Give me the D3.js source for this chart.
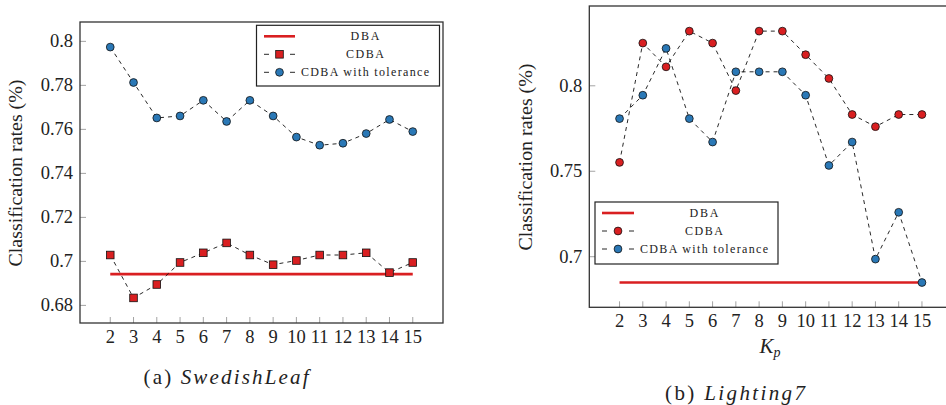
<!DOCTYPE html>
<html>
<head>
<meta charset="utf-8">
<script src="https://cdn.jsdelivr.net/npm/d3@7"></script>
<style>
  body { margin: 0; background: #fff; }
  text { font-family: 'Liberation Serif', 'Times New Roman', 'DejaVu Serif', serif; }
</style>
</head>
<body>
<svg id="chart" width="946" height="405"></svg>
<script>
// K_p values shared by both panels
const kp = [2, 3, 4, 5, 6, 7, 8, 9, 10, 11, 12, 13, 14, 15];

// (a) SwedishLeaf
const swedishDBA = 0.6942;
const swedishCDBA = [0.7029, 0.6834, 0.6895, 0.6995, 0.7039, 0.7084, 0.7029, 0.6985, 0.7004, 0.7029, 0.7029, 0.7039, 0.6949, 0.6995];
const swedishTol = [0.7974, 0.7813, 0.7652, 0.7661, 0.7732, 0.7636, 0.7732, 0.7661, 0.7565, 0.7528, 0.7537, 0.7581, 0.7645, 0.7590];
const swedishTicks = [0.68, 0.70, 0.72, 0.74, 0.76, 0.78, 0.80];

// (b) Lighting7
const lightingDBA = 0.6849;
const lightingCDBA = [0.7552, 0.8250, 0.8111, 0.8320, 0.8250, 0.7972, 0.8320, 0.8320, 0.8182, 0.8043, 0.7832, 0.7761, 0.7832, 0.7832];
const lightingTol = [0.7808, 0.7945, 0.8219, 0.7808, 0.7671, 0.8082, 0.8082, 0.8082, 0.7945, 0.7534, 0.7671, 0.6986, 0.7260, 0.6849];
const lightingTicks = [0.70, 0.75, 0.80];

const legendLabels = ['DBA', 'CDBA', 'CDBA with tolerance'];

const RED = '#d91f21';
const BLUE = '#2a78b6';
const FONT = "'Liberation Serif', 'Times New Roman', 'DejaVu Serif', serif";

const svg = d3.select('#chart');

function fmt(v) {
  // pgfplots style: 0.7 not 0.70
  return String(+v.toFixed(2));
}

function drawPanel(opt) {
  const x = d3.scaleLinear().domain([0.7, 16.3]).range([opt.left, opt.right]);
  const y = d3.scaleLinear().domain(opt.yDomain).range([opt.bottom, opt.top]);
  const g = svg.append('g').attr('font-family', FONT);

  // ticks (inside the box)
  const tickLen = 6;
  g.selectAll('.xt').data(kp).join('line')
    .attr('x1', d => x(d)).attr('x2', d => x(d))
    .attr('y1', opt.bottom).attr('y2', opt.bottom - tickLen)
    .attr('stroke', '#999').attr('stroke-width', 0.9);
  g.selectAll('.yt').data(opt.yTicks).join('line')
    .attr('x1', opt.left).attr('x2', opt.left + tickLen)
    .attr('y1', d => y(d)).attr('y2', d => y(d))
    .attr('stroke', '#999').attr('stroke-width', 0.9);

  // tick labels
  g.selectAll('.xl').data(kp).join('text')
    .attr('x', d => x(d)).attr('y', opt.bottom + 20)
    .attr('text-anchor', 'middle')
    .attr('font-size', 18.5).attr('fill', '#222')
    .text(d => d);
  g.selectAll('.yl').data(opt.yTicks).join('text')
    .attr('x', opt.left - 7).attr('y', d => y(d) + 6)
    .attr('text-anchor', 'end')
    .attr('font-size', 18.5).attr('fill', '#222')
    .text(fmt);

  // y label
  g.append('text')
    .attr('transform', `translate(${opt.ylabX},${opt.ylabY}) rotate(-90)`)
    .attr('text-anchor', 'middle')
    .attr('font-size', 19).attr('fill', '#222')
    .attr('textLength', 187).attr('lengthAdjust', 'spacingAndGlyphs')
    .text('Classification rates (%)');

  // DBA baseline
  g.append('line')
    .attr('x1', x(kp[0])).attr('x2', x(kp[kp.length - 1]))
    .attr('y1', y(opt.dba)).attr('y2', y(opt.dba))
    .attr('stroke', RED).attr('stroke-width', 2.6);

  const line = d3.line().x((d, i) => x(kp[i])).y(d => y(d));

  [opt.cdba, opt.tol].forEach(series => {
    g.append('path')
      .attr('d', line(series))
      .attr('fill', 'none').attr('stroke', '#111')
      .attr('stroke-width', 0.9).attr('stroke-dasharray', '4,4');
  });

  // CDBA markers
  if (opt.cdbaSquare) {
    g.selectAll('.cm').data(opt.cdba).join('rect')
      .attr('x', (d, i) => x(kp[i]) - 3.8).attr('y', d => y(d) - 3.8)
      .attr('width', 7.6).attr('height', 7.6)
      .attr('fill', RED).attr('stroke', '#111').attr('stroke-width', 0.8);
  } else {
    g.selectAll('.cm').data(opt.cdba).join('circle')
      .attr('cx', (d, i) => x(kp[i])).attr('cy', d => y(d)).attr('r', 3.9)
      .attr('fill', RED).attr('stroke', '#111').attr('stroke-width', 0.8);
  }
  g.selectAll('.tm').data(opt.tol).join('circle')
    .attr('cx', (d, i) => x(kp[i])).attr('cy', d => y(d)).attr('r', 3.9)
    .attr('fill', BLUE).attr('stroke', '#111').attr('stroke-width', 0.8);

  // frame
  g.append('rect')
    .attr('x', opt.left).attr('y', opt.top)
    .attr('width', opt.right - opt.left).attr('height', opt.bottom - opt.top)
    .attr('fill', 'none').attr('stroke', '#333').attr('stroke-width', 1.3);

  // legend
  const L = opt.legend;
  const lg = g.append('g');
  lg.append('rect')
    .attr('x', L.x0).attr('y', L.y0).attr('width', L.x1 - L.x0).attr('height', L.y1 - L.y0)
    .attr('fill', '#fff').attr('stroke', '#222').attr('stroke-width', 1.2);
  const rows = [L.y0 + 11, L.y0 + 29, L.y0 + 47];
  const mx = (L.s0 + L.s1) / 2;
  lg.append('line')
    .attr('x1', L.s0).attr('x2', L.s1).attr('y1', rows[0]).attr('y2', rows[0])
    .attr('stroke', RED).attr('stroke-width', 2.6);
  [1, 2].forEach(r => {
    lg.append('line')
      .attr('x1', L.s0).attr('x2', L.s1).attr('y1', rows[r]).attr('y2', rows[r])
      .attr('stroke', '#111').attr('stroke-width', 0.9)
      .attr('stroke-dasharray', `5,${L.s1 - L.s0 - 10},5`);
  });
  if (opt.cdbaSquare) {
    lg.append('rect').attr('x', mx - 3.8).attr('y', rows[1] - 3.8)
      .attr('width', 7.6).attr('height', 7.6)
      .attr('fill', RED).attr('stroke', '#111').attr('stroke-width', 0.8);
  } else {
    lg.append('circle').attr('cx', mx).attr('cy', rows[1]).attr('r', 3.9)
      .attr('fill', RED).attr('stroke', '#111').attr('stroke-width', 0.8);
  }
  lg.append('circle').attr('cx', mx).attr('cy', rows[2]).attr('r', 3.9)
    .attr('fill', BLUE).attr('stroke', '#111').attr('stroke-width', 0.8);
  const widths = [29, 38, 128];
  legendLabels.forEach((t, i) => {
    lg.append('text')
      .attr('x', L.tx).attr('y', rows[i] + 4)
      .attr('text-anchor', 'middle')
      .attr('font-size', 12).attr('fill', '#222')
      .attr('textLength', widths[i]).attr('lengthAdjust', 'spacing')
      .text(t);
  });

  // caption
  const cap = g.append('text')
    .attr('x', opt.capX).attr('y', opt.capY)
    .attr('text-anchor', 'middle')
    .attr('font-size', 21).attr('fill', '#222')
    .attr('textLength', opt.capW).attr('lengthAdjust', 'spacing');
  cap.append('tspan').text(opt.capTag + ' ');
  cap.append('tspan').attr('font-style', 'italic').text(opt.capName);

  return { x, y, g };
}

drawPanel({
  left: 80, right: 443, top: 22, bottom: 323,
  yDomain: [0.6720, 0.8088], yTicks: swedishTicks,
  dba: swedishDBA, cdba: swedishCDBA, tol: swedishTol, cdbaSquare: true,
  ylabX: 22, ylabY: 173,
  legend: { x0: 256.5, y0: 25.3, x1: 439.5, y1: 86, s0: 264, s1: 295, tx: 365 },
  capX: 226, capY: 384, capW: 165, capTag: '(a)', capName: 'SwedishLeaf'
});

const right = drawPanel({
  left: 589.3, right: 952.2, top: 6, bottom: 307.3,
  yDomain: [0.6704, 0.8467], yTicks: lightingTicks,
  dba: lightingDBA, cdba: lightingCDBA, tol: lightingTol, cdbaSquare: false,
  ylabX: 532, ylabY: 157,
  legend: { x0: 595, y0: 202, x1: 778, y1: 264, s0: 602, s1: 634, tx: 704 },
  capX: 735, capY: 400, capW: 140, capTag: '(b)', capName: 'Lighting7'
});

// x-axis label of panel (b)
const kl = right.g.append('text')
  .attr('x', 770).attr('y', 353)
  .attr('text-anchor', 'middle')
  .attr('font-size', 21).attr('fill', '#222')
  .attr('font-style', 'italic');
kl.append('tspan').text('K');
kl.append('tspan').attr('font-size', 14).attr('dy', 4).text('p');
</script>
</body>
</html>
